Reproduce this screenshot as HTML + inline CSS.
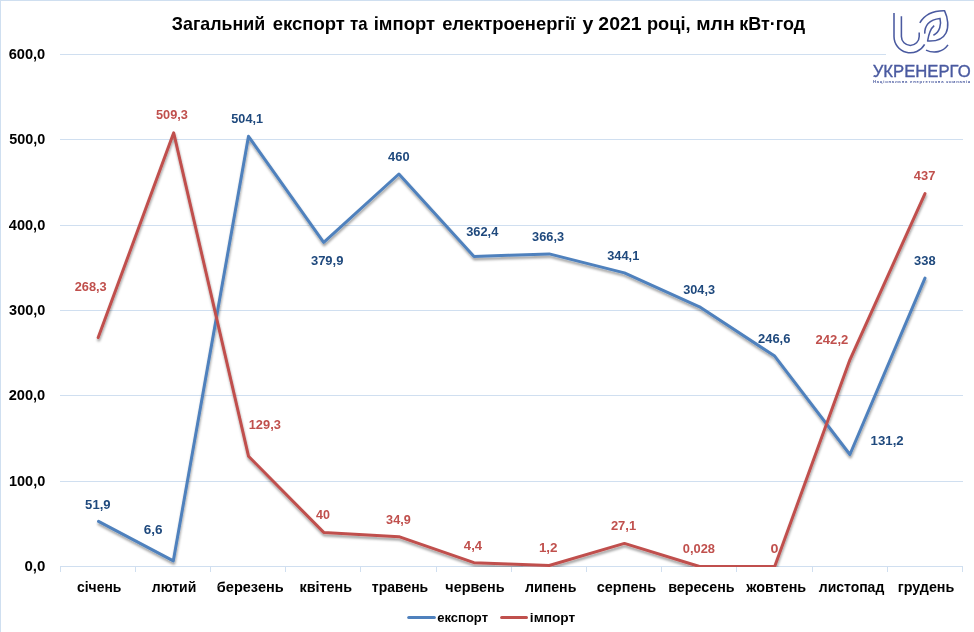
<!DOCTYPE html>
<html lang="uk"><head><meta charset="utf-8">
<title>Загальний експорт та імпорт електроенергії у 2021 році, млн кВт·год</title>
<style>
html,body{margin:0;padding:0;background:#fff;}
body{width:974px;height:632px;overflow:hidden;}
svg{display:block;}
text{font-family:"Liberation Sans",sans-serif;font-weight:bold;}
</style></head><body>
<svg width="974" height="632" viewBox="0 0 974 632">
<defs>
<filter id="sh" filterUnits="userSpaceOnUse" x="0" y="0" width="974" height="632"><feDropShadow dx="0.5" dy="2.4" stdDeviation="1.3" flood-color="#000" flood-opacity="0.38"/></filter>
<clipPath id="plot"><rect x="60" y="40" width="910" height="527"/></clipPath>
</defs>
<rect x="0" y="0" width="974" height="632" fill="#fff"/>
<rect x="0" y="0" width="974" height="1" fill="#cfdff0"/>
<rect x="0" y="0" width="1" height="632" fill="#cfdff0"/>
<g stroke="#d0dff0" stroke-width="1" fill="none" shape-rendering="crispEdges">
<line x1="60" y1="566.5" x2="963" y2="566.5"/>
<line x1="60" y1="481.5" x2="963" y2="481.5"/>
<line x1="60" y1="395.5" x2="963" y2="395.5"/>
<line x1="60" y1="310.5" x2="963" y2="310.5"/>
<line x1="60" y1="225.5" x2="963" y2="225.5"/>
<line x1="60" y1="139.5" x2="963" y2="139.5"/>
<line x1="60" y1="54.5" x2="963" y2="54.5"/>
</g>
<g stroke="#d0dff0" stroke-width="1" fill="none" shape-rendering="crispEdges">
<line x1="60.5" y1="567" x2="60.5" y2="572"/>
<line x1="135.5" y1="567" x2="135.5" y2="572"/>
<line x1="210.5" y1="567" x2="210.5" y2="572"/>
<line x1="285.5" y1="567" x2="285.5" y2="572"/>
<line x1="360.5" y1="567" x2="360.5" y2="572"/>
<line x1="436.5" y1="567" x2="436.5" y2="572"/>
<line x1="511.5" y1="567" x2="511.5" y2="572"/>
<line x1="586.5" y1="567" x2="586.5" y2="572"/>
<line x1="661.5" y1="567" x2="661.5" y2="572"/>
<line x1="736.5" y1="567" x2="736.5" y2="572"/>
<line x1="812.5" y1="567" x2="812.5" y2="572"/>
<line x1="887.5" y1="567" x2="887.5" y2="572"/>
<line x1="962.5" y1="567" x2="962.5" y2="572"/>
</g>
<g clip-path="url(#plot)">
<g fill="none" stroke-width="3" stroke-linejoin="round" stroke-linecap="round" filter="url(#sh)">
<path d="M98.5,521.4 L173.3,560.9 L248.5,136.3 L323.7,242.3 L398.9,174.0 L474.0,256.5 L549.2,253.9 L624.4,272.9 L699.5,306.8 L774.7,356.1 L849.9,454.5 L925.0,278.1" stroke="#4f81bd"/>
<path d="M98.2,337.6 L173.7,132.8 L248.5,456.2 L323.7,532.4 L398.9,536.7 L474.0,562.7 L549.2,565.5 L624.4,543.4 L699.5,566.5 L774.7,566.5 L849.9,359.8 L925.0,193.6" stroke="#c0504d"/>
</g></g>
<text y="29.9" font-size="18.4" fill="#000"><tspan x="171.82" textLength="93.38" lengthAdjust="spacingAndGlyphs">Загальний</tspan> <tspan x="272.75" textLength="72.07" lengthAdjust="spacingAndGlyphs">експорт</tspan> <tspan x="349.94" textLength="17.54" lengthAdjust="spacingAndGlyphs">та</tspan> <tspan x="373.74" textLength="61.32" lengthAdjust="spacingAndGlyphs">імпорт</tspan> <tspan x="442.15" textLength="133.15" lengthAdjust="spacingAndGlyphs">електроенергії</tspan> <tspan x="582.57" textLength="10.85" lengthAdjust="spacingAndGlyphs">у</tspan> <tspan x="598.34" textLength="43.24" lengthAdjust="spacingAndGlyphs">2021</tspan> <tspan x="646.96" textLength="43.58" lengthAdjust="spacingAndGlyphs">році,</tspan> <tspan x="696.18" textLength="38.48" lengthAdjust="spacingAndGlyphs">млн</tspan> <tspan x="739.28" textLength="65.86" lengthAdjust="spacingAndGlyphs">кВт·год</tspan></text>
<g>
<text x="24.46" y="571" font-size="14.0" fill="#000" textLength="20.87" lengthAdjust="spacingAndGlyphs">0,0</text>
<text x="8.99" y="486" font-size="14.0" fill="#000" textLength="36.27" lengthAdjust="spacingAndGlyphs">100,0</text>
<text x="8.68" y="400" font-size="14.0" fill="#000" textLength="36.59" lengthAdjust="spacingAndGlyphs">200,0</text>
<text x="9.11" y="315" font-size="14.0" fill="#000" textLength="36.15" lengthAdjust="spacingAndGlyphs">300,0</text>
<text x="8.84" y="230" font-size="14.0" fill="#000" textLength="36.43" lengthAdjust="spacingAndGlyphs">400,0</text>
<text x="9.29" y="144" font-size="14.0" fill="#000" textLength="35.97" lengthAdjust="spacingAndGlyphs">500,0</text>
<text x="8.68" y="59" font-size="14.0" fill="#000" textLength="36.59" lengthAdjust="spacingAndGlyphs">600,0</text>
</g>
<g>
<text x="77.0" y="591.8" font-size="14.0" fill="#000" textLength="44.35" lengthAdjust="spacingAndGlyphs">січень</text>
<text x="151.78" y="591.8" font-size="14.0" fill="#000" textLength="44.48" lengthAdjust="spacingAndGlyphs">лютий</text>
<text x="216.85" y="591.8" font-size="14.0" fill="#000" textLength="66.83" lengthAdjust="spacingAndGlyphs">березень</text>
<text x="299.57" y="591.8" font-size="14.0" fill="#000" textLength="52.53" lengthAdjust="spacingAndGlyphs">квітень</text>
<text x="371.83" y="591.8" font-size="14.0" fill="#000" textLength="56.37" lengthAdjust="spacingAndGlyphs">травень</text>
<text x="445.36" y="591.8" font-size="14.0" fill="#000" textLength="59.28" lengthAdjust="spacingAndGlyphs">червень</text>
<text x="524.97" y="591.8" font-size="14.0" fill="#000" textLength="51.4" lengthAdjust="spacingAndGlyphs">липень</text>
<text x="596.78" y="591.8" font-size="14.0" fill="#000" textLength="59.3" lengthAdjust="spacingAndGlyphs">серпень</text>
<text x="668.28" y="591.8" font-size="14.0" fill="#000" textLength="66.36" lengthAdjust="spacingAndGlyphs">вересень</text>
<text x="746.33" y="591.8" font-size="14.0" fill="#000" textLength="59.83" lengthAdjust="spacingAndGlyphs">жовтень</text>
<text x="818.78" y="591.8" font-size="14.0" fill="#000" textLength="65.49" lengthAdjust="spacingAndGlyphs">листопад</text>
<text x="897.68" y="591.8" font-size="14.0" fill="#000" textLength="56.66" lengthAdjust="spacingAndGlyphs">грудень</text>
</g>
<g>
<text x="85.11" y="508.7" font-size="12.5" fill="#1f497d" textLength="25.48" lengthAdjust="spacingAndGlyphs">51,9</text>
<text x="143.76" y="533.5" font-size="12.5" fill="#1f497d" textLength="18.8" lengthAdjust="spacingAndGlyphs">6,6</text>
<text x="231.32" y="122.8" font-size="12.5" fill="#1f497d" textLength="31.66" lengthAdjust="spacingAndGlyphs">504,1</text>
<text x="310.91" y="265.0" font-size="12.5" fill="#1f497d" textLength="32.51" lengthAdjust="spacingAndGlyphs">379,9</text>
<text x="388.14" y="160.9" font-size="12.5" fill="#1f497d" textLength="21.46" lengthAdjust="spacingAndGlyphs">460</text>
<text x="466.21" y="236.0" font-size="12.5" fill="#1f497d" textLength="32.12" lengthAdjust="spacingAndGlyphs">362,4</text>
<text x="532.12" y="240.8" font-size="12.5" fill="#1f497d" textLength="31.9" lengthAdjust="spacingAndGlyphs">366,3</text>
<text x="607.22" y="260.0" font-size="12.5" fill="#1f497d" textLength="32.07" lengthAdjust="spacingAndGlyphs">344,1</text>
<text x="683.22" y="293.7" font-size="12.5" fill="#1f497d" textLength="31.79" lengthAdjust="spacingAndGlyphs">304,3</text>
<text x="758.01" y="342.8" font-size="12.5" fill="#1f497d" textLength="32.41" lengthAdjust="spacingAndGlyphs">246,6</text>
<text x="870.61" y="444.9" font-size="12.5" fill="#1f497d" textLength="33.05" lengthAdjust="spacingAndGlyphs">131,2</text>
<text x="914.11" y="265.0" font-size="12.5" fill="#1f497d" textLength="21.56" lengthAdjust="spacingAndGlyphs">338</text>
</g>
<g>
<text x="74.72" y="290.7" font-size="12.5" fill="#c0504d" textLength="32.0" lengthAdjust="spacingAndGlyphs">268,3</text>
<text x="156.02" y="118.8" font-size="12.5" fill="#c0504d" textLength="31.9" lengthAdjust="spacingAndGlyphs">509,3</text>
<text x="248.73" y="428.8" font-size="12.5" fill="#c0504d" textLength="32.19" lengthAdjust="spacingAndGlyphs">129,3</text>
<text x="315.95" y="518.8" font-size="12.5" fill="#c0504d" textLength="13.88" lengthAdjust="spacingAndGlyphs">40</text>
<text x="386.12" y="523.8" font-size="12.5" fill="#c0504d" textLength="24.65" lengthAdjust="spacingAndGlyphs">34,9</text>
<text x="463.84" y="549.8" font-size="12.5" fill="#c0504d" textLength="18.28" lengthAdjust="spacingAndGlyphs">4,4</text>
<text x="538.9" y="551.9" font-size="12.5" fill="#c0504d" textLength="18.66" lengthAdjust="spacingAndGlyphs">1,2</text>
<text x="610.91" y="529.9" font-size="12.5" fill="#c0504d" textLength="25.25" lengthAdjust="spacingAndGlyphs">27,1</text>
<text x="682.78" y="552.7" font-size="12.5" fill="#c0504d" textLength="32.23" lengthAdjust="spacingAndGlyphs">0,028</text>
<text x="770.43" y="552.7" font-size="12.5" fill="#c0504d" textLength="7.93" lengthAdjust="spacingAndGlyphs">0</text>
<text x="815.61" y="344.0" font-size="12.5" fill="#c0504d" textLength="32.65" lengthAdjust="spacingAndGlyphs">242,2</text>
<text x="913.84" y="180.0" font-size="12.5" fill="#c0504d" textLength="21.49" lengthAdjust="spacingAndGlyphs">437</text>
</g>
<g fill="none" stroke-width="3" stroke-linecap="round">
<line x1="408.7" y1="617.5" x2="434.4" y2="617.5" stroke="#4f81bd"/>
<line x1="501.6" y1="617.5" x2="526.5" y2="617.5" stroke="#c0504d"/>
</g>
<text x="437.26" y="621.9" font-size="13.2" fill="#000" textLength="50.78" lengthAdjust="spacingAndGlyphs">експорт</text>
<text x="529.89" y="621.9" font-size="13.2" fill="#000" textLength="45.33" lengthAdjust="spacingAndGlyphs">імпорт</text>
<rect x="886" y="2" width="88" height="96" fill="#fff"/>
<g fill="none" stroke="#4a5aa0" stroke-width="1.55" stroke-linecap="butt" stroke-linejoin="round">
<path d="M894,12.9 V36.5 A16.3,16.3 0 0 0 924.6,44.3"/>
<path d="M901.4,16.2 V36.5 A8.9,8.9 0 0 0 919.2,36.5 V32.4"/>
<path d="M919.8,22.8 C925,14 935,10.5 944.5,10.7 C948,18 949,27 946,33 C943,39 936,41.5 927.6,41 C928.5,35 930,29 934.2,25.6"/>
<path d="M924.8,33.6 C924.5,26 929,19.5 940,18.4 C941.5,24 940,32 933.4,35.2"/>
<path d="M926,50.1 C934,54 943,52 948,44.9"/>
</g>
<text x="872.7" y="76.6" font-size="16.6" fill="#4a5aa0" style="font-weight:normal" stroke="#4a5aa0" stroke-width="0.35" textLength="98.02" lengthAdjust="spacingAndGlyphs">УКРЕНЕРГО</text>
<text x="872.95" y="83.0" font-size="4.2" fill="#4a5aa0" textLength="97.32" lengthAdjust="spacing">Національна енергетична компанія</text>
</svg>
</body></html>
